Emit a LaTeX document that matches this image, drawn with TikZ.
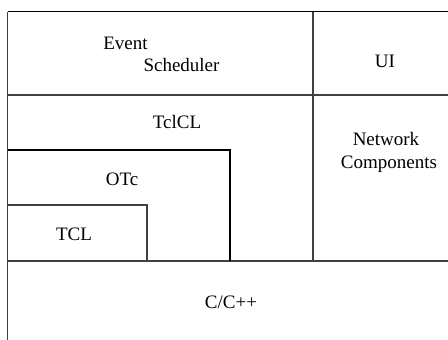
\documentclass[tikz,border=0pt]{standalone}
\usepackage{fontspec}
\setmainfont{Liberation Serif}
\begin{document}
\begin{tikzpicture}[x=1pt,y=-1pt,
  rule/.style={line width=1.3pt,draw=black!75},
  lbl/.style={anchor=base,inner sep=0pt,font=\fontsize{19}{23}\selectfont}]
\useasboundingbox (0,0) rectangle (448,340);
% corners
\coordinate (tl) at (7.5,11.5);
\coordinate (tr) at (448,11.5);
\coordinate (bl) at (7.5,340);
\coordinate (h1l) at (7.5,95);
\coordinate (h1r) at (448,95);
\coordinate (h2l) at (7.5,261);
\coordinate (h2r) at (448,261);
\coordinate (v1t) at (313,11.5);
\coordinate (v1b) at (313,261);
\coordinate (otl) at (7.5,150);
\coordinate (otr) at (230,150);
\coordinate (otb) at (230,261);
\coordinate (tcl) at (7.5,205);
\coordinate (tcr) at (147,205);
\coordinate (tcb) at (147,261);
\draw[rule,draw=black] (tl) -- (tr);
\draw[rule] (tl) -- (bl);
\draw[rule] (h1l) -- (h1r);
\draw[rule] (h2l) -- (h2r);
\draw[rule] (v1t) -- (v1b);
\draw[rule,draw=black] (otl) -- (otr) -- (otb);
\draw[rule] (tcl) -- (tcr) -- (tcb);
% labels
\node[lbl] (ev) at (125.5,49) {Event};
\node[lbl] (sch) at (181.5,71) {Scheduler};
\node[lbl] (ui) at (385,67) {UI};
\node[lbl] (tclcl) at (177,128) {TclCL};
\node[lbl] (net) at (386,145) {Network};
\node[lbl] (comp) at (389,168) {Components};
\node[lbl] (otc) at (122,185) {OTc};
\node[lbl] (tclt) at (74,240) {TCL};
\node[lbl] (cpp) at (231,308) {C/C++};
\end{tikzpicture}
\end{document}
